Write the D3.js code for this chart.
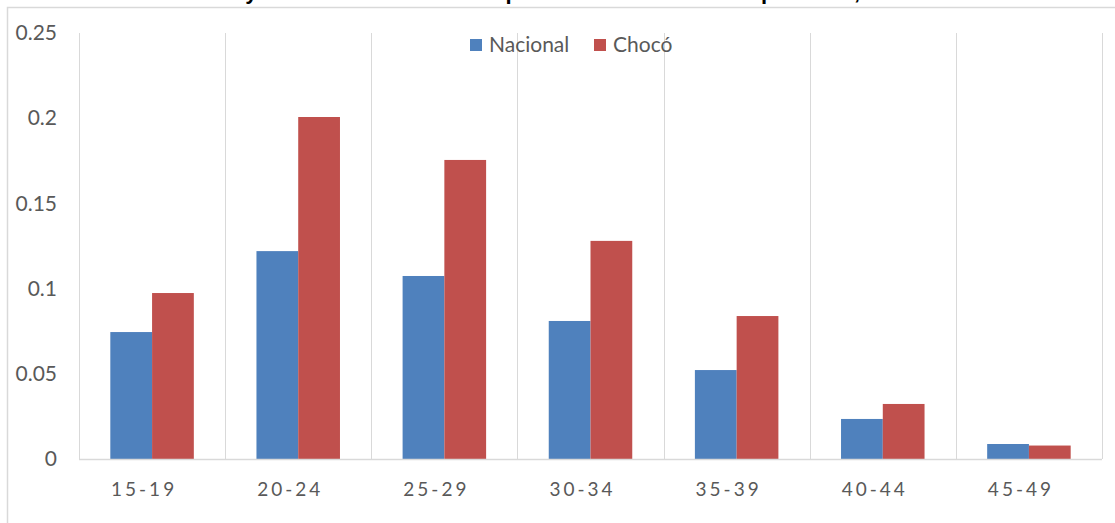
<!DOCTYPE html>
<html>
<head>
<meta charset="utf-8">
<script src="https://cdn.jsdelivr.net/npm/d3@7"></script>
<style>
	body { margin: 0; background: #fff; }
	svg { display: block; }
</style>
</head>
<body>
<svg width="1115" height="523"></svg>
<script>
var groups = ["15-19", "20-24", "25-29", "30-34", "35-39", "40-44", "45-49"]
var seriesNames = ["Nacional", "Chocó"]
var nacional = [0.0745, 0.122, 0.1074, 0.081, 0.0522, 0.0235, 0.0088]
var choco = [0.0974, 0.2007, 0.1755, 0.128, 0.0839, 0.0323, 0.0079]
var yTicks = [0, 0.05, 0.1, 0.15, 0.2, 0.25]
var titleText = "Gráfico 3. Chocó y total nacional: tasas específicas de fecundidad por edad, 2005-2010"

var colors = { "Nacional": "#4f81bd", "Chocó": "#c0504d" }

var svg = d3.select("svg")
var plotLeft = 79, plotRight = 1102, plotTop = 33, plotBottom = 459

// frame and (cut off) title
svg.append("rect")
	.attr("x", 7.5).attr("y", 7.5)
	.attr("width", 1200).attr("height", 600)
	.attr("fill", "none").attr("stroke", "#d9d9d9").attr("stroke-width", 1.5)

svg.append("text")
	.attr("x", 63).attr("y", -1)
	.attr("font-family", "Liberation Sans, Arial, sans-serif")
	.attr("font-weight", "bold")
	.attr("font-size", 22)
	.attr("fill", "#000")
	.text(titleText)

var x = d3.scaleBand().domain(groups).range([plotLeft, plotRight])
var y = d3.scaleLinear().domain([0, 0.25]).range([plotBottom, plotTop])
var xs = d3.scaleBand().domain(seriesNames).range([0, x.bandwidth()]).paddingInner(0).paddingOuter(0.75)

// vertical gridlines between categories
var grid = svg.append("g")
for (var i = 0; i <= groups.length; i++) {
	var gx = Math.round(plotLeft + x.step() * i) + 0.5
	grid.append("line")
		.attr("x1", gx).attr("x2", gx)
		.attr("y1", plotTop).attr("y2", plotBottom)
		.attr("stroke", "#d9d9d9").attr("stroke-width", 1)
}

var data = groups.map(function(g, i) {
	return { group: g, values: [{ key: "Nacional", v: nacional[i] }, { key: "Chocó", v: choco[i] }] }
})

var bars = svg.append("g")
data.forEach(function(d) {
	d.values.forEach(function(s) {
		bars.append("rect")
			.attr("x", x(d.group) + xs(s.key))
			.attr("y", y(s.v))
			.attr("width", xs.bandwidth())
			.attr("height", plotBottom - y(s.v))
			.attr("fill", colors[s.key])
	})
})

// baseline
svg.append("line")
	.attr("x1", plotLeft).attr("x2", plotRight)
	.attr("y1", plotBottom + 0.5).attr("y2", plotBottom + 0.5)
	.attr("stroke", "#d9d9d9").attr("stroke-width", 1.5)

// y axis labels
var yAxis = d3.axisLeft(y).tickValues(yTicks).tickSize(0).tickPadding(22)
	.tickFormat(function(d) { return d3.format("~g")(d) })
var ya = svg.append("g").attr("transform", "translate(" + plotLeft + ",0)").call(yAxis)
ya.select(".domain").remove()
ya.selectAll("text")
	.attr("font-family", "Lato, Carlito, sans-serif")
	.attr("font-size", 21)
	.attr("fill", "#595959")

// x axis labels
var xAxis = d3.axisBottom(x).tickSize(0).tickPadding(24)
var xa = svg.append("g").attr("transform", "translate(0," + plotBottom + ")").call(xAxis)
xa.select(".domain").remove()
xa.selectAll("text")
	.attr("font-family", "Lato, Carlito, sans-serif")
	.attr("font-size", 19)
	.attr("letter-spacing", 3)
	.attr("dx", -8)
	.attr("fill", "#595959")

// legend
var legend = svg.append("g")
var lx = [470, 594]
seriesNames.forEach(function(name, i) {
	legend.append("rect")
		.attr("x", lx[i]).attr("y", 39)
		.attr("width", 12).attr("height", 12)
		.attr("fill", colors[name])
	legend.append("text")
		.attr("x", lx[i] + 19).attr("y", 52)
		.attr("font-family", "Lato, Carlito, sans-serif")
		.attr("font-size", 21)
		.attr("fill", "#595959")
		.text(name)
})
</script>
</body>
</html>
